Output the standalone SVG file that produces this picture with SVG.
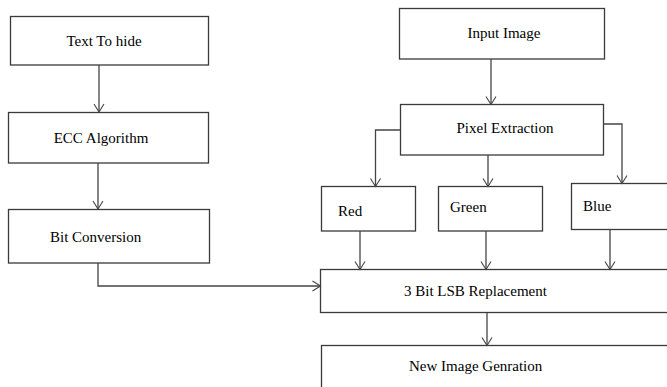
<svg xmlns="http://www.w3.org/2000/svg" width="667" height="387" viewBox="0 0 667 387">
<style>
.box{fill:#fff;stroke:#3a3a3a;stroke-width:1.3}
.t{font-family:'Liberation Serif','Times New Roman',Times,serif;font-size:15px;fill:#000}
.c{fill:none;stroke:#444;stroke-width:1.3}
</style>
<defs>
<marker id="ah" markerUnits="userSpaceOnUse" markerWidth="14" markerHeight="14" refX="0" refY="0" viewBox="-10 -7 12 14" orient="auto">
<path d="M-8,-5 L0,0 L-8,5" fill="none" stroke="#444" stroke-width="1.1"/>
</marker>
</defs>
<rect width="667" height="387" fill="#fff"/>
<g id="n-text"><rect class="box" x="10.5" y="16.5" width="198" height="48.5"/><text class="t" x="104" y="46" text-anchor="middle">Text To hide</text></g>
<g id="n-ecc"><rect class="box" x="8.5" y="112.5" width="200" height="50.5"/><text class="t" x="101" y="143" text-anchor="middle">ECC Algorithm</text></g>
<g id="n-bit"><rect class="box" x="8.5" y="209.5" width="201" height="53.5"/><text class="t" x="50" y="242">Bit Conversion</text></g>
<g id="n-input"><rect class="box" x="399.5" y="8.5" width="205" height="50.5"/><text class="t" x="504" y="38" text-anchor="middle">Input Image</text></g>
<g id="n-pixel"><rect class="box" x="400.5" y="104.5" width="203" height="50.5"/><text class="t" x="505" y="133" text-anchor="middle">Pixel Extraction</text></g>
<g id="n-red"><rect class="box" x="321.5" y="186.5" width="94" height="44.5"/><text class="t" x="338" y="216">Red</text></g>
<g id="n-green"><rect class="box" x="438.5" y="186.5" width="104" height="44.5"/><text class="t" x="450" y="212">Green</text></g>
<g id="n-blue"><rect class="box" x="571.5" y="183.5" width="100" height="46"/><text class="t" x="583" y="211">Blue</text></g>
<g id="n-lsb"><rect class="box" x="320.5" y="269.5" width="352" height="43"/><text class="t" x="404" y="296">3 Bit LSB Replacement</text></g>
<g id="n-new"><rect class="box" x="321.5" y="345.5" width="352" height="50"/><text class="t" x="409" y="371">New Image Genration</text></g>
<g id="connectors">
<path class="c" d="M99,65 V112" marker-end="url(#ah)"/>
<path class="c" d="M98,163 V209" marker-end="url(#ah)"/>
<path class="c" d="M98,263 V286 H320.5" marker-end="url(#ah)"/>
<path class="c" d="M491,59 V104.5" marker-end="url(#ah)"/>
<path class="c" d="M400.5,130 H375.5 V186.5" marker-end="url(#ah)"/>
<path class="c" d="M488,155 V186.5" marker-end="url(#ah)"/>
<path class="c" d="M603.5,124 H622 V183.5" marker-end="url(#ah)"/>
<path class="c" d="M360,231 V269.5" marker-end="url(#ah)"/>
<path class="c" d="M486,231 V269.5" marker-end="url(#ah)"/>
<path class="c" d="M610,229.5 V269.5" marker-end="url(#ah)"/>
<path class="c" d="M487,313 V345.5" marker-end="url(#ah)"/>
</g>
</svg>
